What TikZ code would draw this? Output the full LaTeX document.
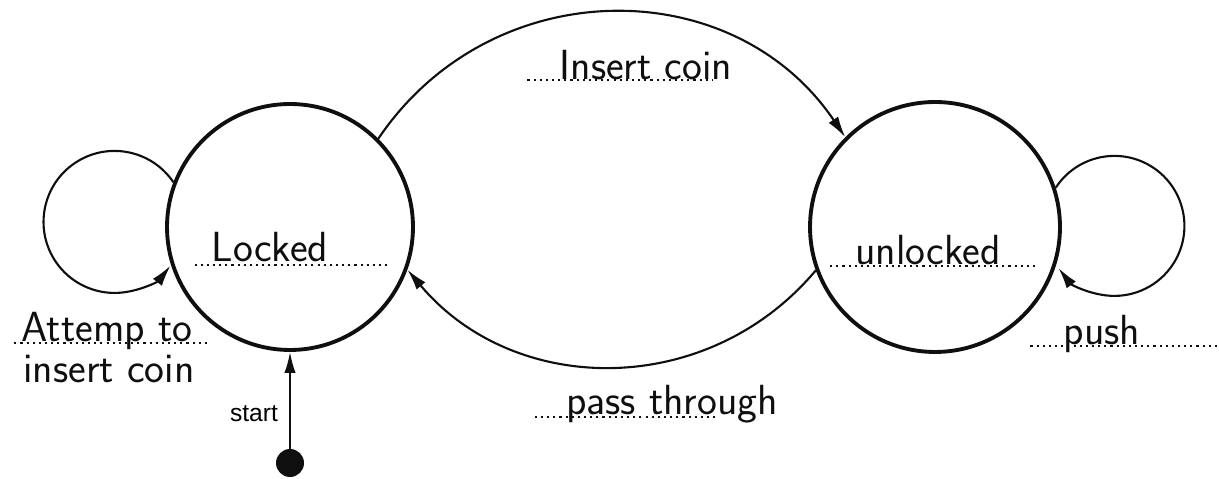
\documentclass[tikz,border=0pt]{standalone}
\usepackage{fontspec}
\usepackage{tikz}
\usetikzlibrary{arrows.meta,calc,positioning}
\newfontfamily\startfont{Liberation Sans}
\definecolor{InkBlack}{RGB}{15,15,15}

\begin{document}
\begin{tikzpicture}[x=0.02cm,y=0.02cm,>={Latex[length=12pt,width=6.5pt]},
    state/.style={circle,draw=InkBlack,line width=2.2pt,inner sep=0pt},
    trans/.style={->,InkBlack,line width=1.2pt},
    hand/.style={anchor=base,inner sep=0pt,text=InkBlack,
      font=\sffamily\fontsize{24}{26}\selectfont},
    dotline/.style={InkBlack,line width=1.2pt,dash pattern=on 1.2pt off 2.3pt}]
      \useasboundingbox (0,0) rectangle (1219,479);
      % states
      \node[state,minimum size=4.92cm] (lk) at (290,252) {};
      \node[state,minimum size=5cm] (ul) at (935,252) {};
      \node[circle,fill=InkBlack,minimum size=0.56cm,inner sep=0pt] (st) at (290,16) {};
      \node[hand] (lkname) at (270,217) {Locked};
      \node[hand] (ulname) at (928,214) {unlocked};
      % transitions
      \draw[trans] (st) -- (lk);
      \draw[trans] (lk.45) to[out=56,in=124,looseness=1.1] (ul.135);
      \draw[trans] (ul.200) to[out=-130,in=-50,looseness=1.05] (lk.-20);
      \draw[trans] (lk.159) arc[start angle=34,end angle=322,radius=71];
      \draw[trans] (ul.18) arc[start angle=147,end angle=-143,radius=70];
      % labels
      \node[hand] (ic) at (646,399) {Insert coin};
      \node[hand] (pt) at (672,64) {pass through};
      \node[hand] (ps) at (1102,134) {push};
      \node[hand] (at) at (107,137) {Attemp to};
      \node[hand] (at2) at (109,96) {insert coin};
      \node[anchor=base,inner sep=0pt,font=\startfont\fontsize{14}{16}\selectfont] (sl) at (254,57) {start};
      % dotted underlines
      \draw[dotline] ($(lkname.base west)+(-17,-3)$) -- ($(lkname.base east)+(62,-3)$);
      \draw[dotline] ($(ulname.base west)+(-25,-1)$) -- ($(ulname.base east)+(38,-1)$);
      \draw[dotline] ($(ic.base west)+(-32,0)$) -- ($(ic.base east)+(-20,0)$);
      \draw[dotline] ($(pt.base west)+(-31,-2)$) -- ($(pt.base east)+(-62,-2)$);
      \draw[dotline] ($(ps.base west)+(-33,-1)$) -- (1219,133);
      \draw[dotline] ($(at.base west)+(-7,-1)$) -- ($(at.base east)+(18,-1)$);
    \end{tikzpicture}
\end{document}
